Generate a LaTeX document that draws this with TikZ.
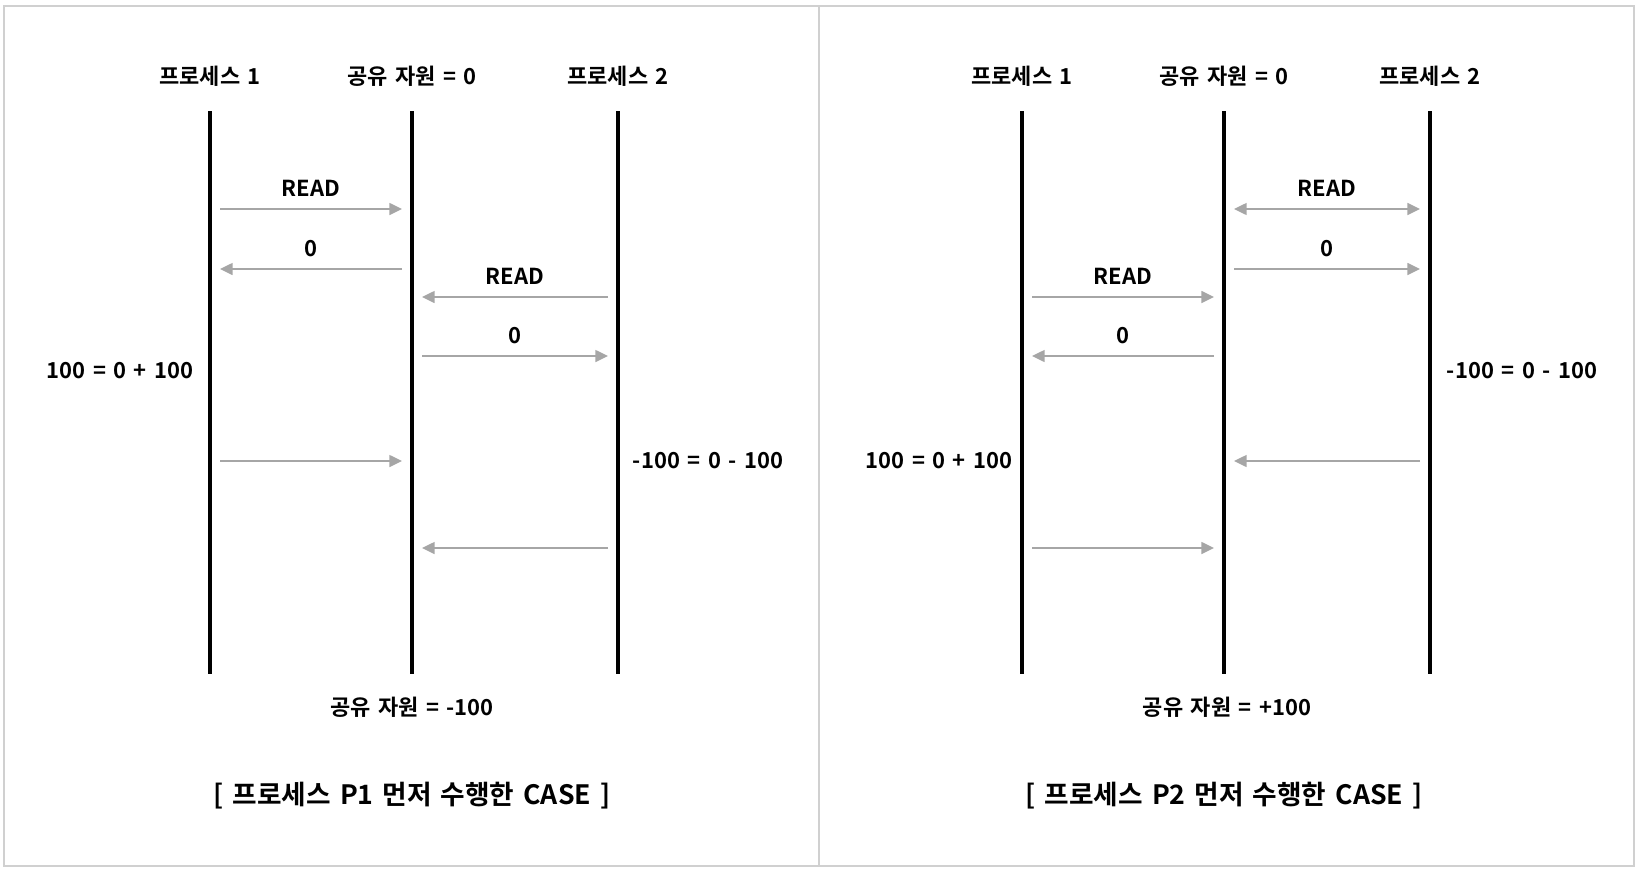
\documentclass[tikz,border=0pt]{standalone}
\usepackage{fontspec}
\setmainfont{Noto Sans CJK KR}[BoldFont={Noto Sans CJK KR Bold}, WordSpace=1.5]
\usetikzlibrary{arrows.meta}
\usepackage{xcolor}
\definecolor{cArrow}{HTML}{A6A6A6}
\definecolor{cFrame}{HTML}{D0D0D0}

% message arrow between two lifelines at height #4
\newcommand{\sendmsg}[5][msg]{%
  \draw[#1] (#2 |- 0,#4) -- node[msglabel] {#5} (#3 |- 0,#4);}

\begin{document}
\begin{tikzpicture}[
  x=0.75pt, y=-0.75pt,
  >={Triangle[length=9.5pt, width=9pt]},
  lifeline/.style={line width=3.2pt, black},
  msg/.style={->, draw=cArrow, line width=1.1pt, shorten <=7.5pt, shorten >=7.5pt},
  msgboth/.style={msg, <->},
  txt/.style={font=\bfseries\fontsize{16.5}{20}\selectfont, inner sep=0pt},
  msglabel/.style={txt, above=8.5pt},
  casetitle/.style={font=\bfseries\fontsize{20}{24}\selectfont, inner sep=0pt},
]
\useasboundingbox (0,0) rectangle (1640,871);

% ---- Frame ----
\draw[cFrame, line width=1.5pt] (4,6) rectangle (1634,866);
\draw[cFrame, line width=1.5pt] (819,6) -- (819,866);

% ---- Left panel: P1 first ----
\node[txt] (ah1) at (210,76) {프로세스 1};
\node[txt] (ahr) at (412,76) {공유 자원 = 0};
\node[txt] (ah2) at (618,76) {프로세스 2};

\coordinate (a1t) at (210,111); \coordinate (a1b) at (210,674);
\coordinate (art) at (412,111); \coordinate (arb) at (412,674);
\coordinate (a2t) at (618,111); \coordinate (a2b) at (618,674);
\draw[lifeline] (a1t) -- (a1b);
\draw[lifeline] (art) -- (arb);
\draw[lifeline] (a2t) -- (a2b);

\sendmsg{a1t}{art}{209}{READ}
\sendmsg{art}{a1t}{269}{0}
\sendmsg{a2t}{art}{297}{READ}
\sendmsg{art}{a2t}{356}{0}
\sendmsg{a1t}{art}{461}{}
\sendmsg{a2t}{art}{548}{}

\node[txt] (acalc1) at (120,371) {100 = 0 + 100};
\node[txt] (acalc2) at (708,461) {-100 = 0 - 100};
\node[txt] (ares) at (412,707) {공유 자원 = -100};
\node[casetitle] (acase) at (412,796) {[ 프로세스 P1 먼저 수행한 CASE ]};

% ---- Right panel: P2 first ----
\node[txt] (bh1) at (1022,76) {프로세스 1};
\node[txt] (bhr) at (1224,76) {공유 자원 = 0};
\node[txt] (bh2) at (1430,76) {프로세스 2};

\coordinate (b1t) at (1022,111); \coordinate (b1b) at (1022,674);
\coordinate (brt) at (1224,111); \coordinate (brb) at (1224,674);
\coordinate (b2t) at (1430,111); \coordinate (b2b) at (1430,674);
\draw[lifeline] (b1t) -- (b1b);
\draw[lifeline] (brt) -- (brb);
\draw[lifeline] (b2t) -- (b2b);

\sendmsg[msgboth]{brt}{b2t}{209}{READ}
\sendmsg{brt}{b2t}{269}{0}
\sendmsg{b1t}{brt}{297}{READ}
\sendmsg{brt}{b1t}{356}{0}
\sendmsg{b2t}{brt}{461}{}
\sendmsg{b1t}{brt}{548}{}

\node[txt] (bcalc1) at (1522,371) {-100 = 0 - 100};
\node[txt] (bcalc2) at (939,461) {100 = 0 + 100};
\node[txt] (bres) at (1227,707) {공유 자원 = +100};
\node[casetitle] (bcase) at (1224,796) {[ 프로세스 P2 먼저 수행한 CASE ]};

\end{tikzpicture}
\end{document}
